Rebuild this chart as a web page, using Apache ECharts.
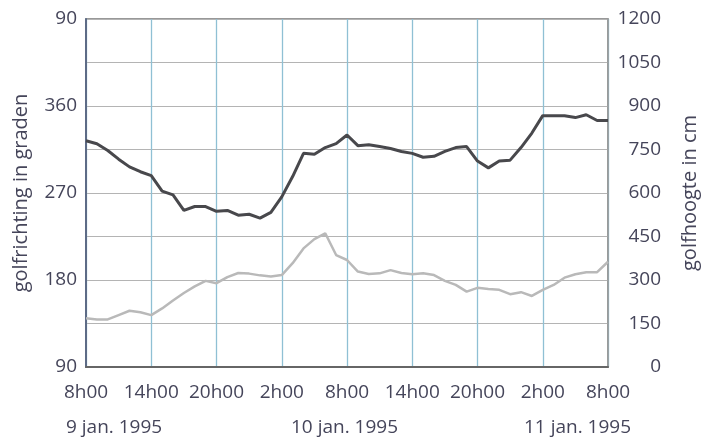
<!DOCTYPE html>
<html>
<head>
<meta charset="utf-8">
<script src="https://cdn.jsdelivr.net/npm/echarts@6/dist/echarts.min.js"></script>
<style>html,body{margin:0;padding:0;background:#fff;}#c{width:701px;height:446px;}</style>
</head>
<body>
<div id="c"></div>
<script>
// hourly time stamps, 9 jan 8h00 .. 11 jan 8h00
var hours = [];
for (var i = 0; i <= 48; i++) { hours.push(((8 + i) % 24) + 'h00'); }
var xTickLabels = ['8h00','14h00','20h00','2h00','8h00','14h00','20h00','2h00','8h00'];
var dateLabels = ['9 jan. 1995','10 jan. 1995','11 jan. 1995'];
var leftTicks = ['90','180','270','360','90'];   // 90..450 degrees, 450 shown as 90
var rightTicks = [0,150,300,450,600,750,900,1050,1200];

// golfrichting (degrees), dark line
var golfrichting = [324,321,314,305,297,292,288,272,268,252,256,256,251,252,247,248,244,250,266,287,311,310,317,321,330,319,320,318,316,313,311,307,308,313,317,318,303,296,303,304,317,332,350,350,350,348,351,345,345];
// golfhoogte (cm), grey line
var golfhoogte = [168,164,164,179,194,189,179,202,229,255,278,297,289,310,324,322,316,312,317,358,409,441,461,386,369,329,321,323,334,324,320,323,317,297,283,260,273,269,266,251,258,245,266,283,308,320,327,327,363];

var font = 'Open Sans';
var txt = '#45455a';
var chart = echarts.init(document.getElementById('c'));
chart.setOption({
  backgroundColor: '#fff',
  animation: false,
  grid: {left: 86, right: 93, top: 19, bottom: 79, show: true, borderColor: '#777', borderWidth: 1.5,
         containLabel: false, outerBoundsMode: 'none'},
  xAxis: {
    type: 'category', data: hours, boundaryGap: false,
    axisLine: {lineStyle: {color: '#666', width: 2}},
    axisTick: {show: false},
    axisLabel: {
      interval: function (i) { return i % 6 === 0; },
      formatter: function (v, i) { return xTickLabels[i / 6]; },
      color: txt, fontFamily: font, fontSize: 19, margin: 16
    },
    splitLine: {show: true, interval: function (i) { return i % 6 === 0; }, lineStyle: {color: '#8fc0d4', width: 1.3}}
  },
  yAxis: [{
    type: 'value', min: 90, max: 450, interval: 90, position: 'left',
    name: 'golfrichting in graden', nameLocation: 'middle', nameGap: 55,
    nameTextStyle: {color: txt, fontFamily: font, fontSize: 20},
    axisLine: {show: true, lineStyle: {color: '#5d6b86', width: 2}},
    axisTick: {show: false},
    axisLabel: {color: txt, fontFamily: font, fontSize: 19, margin: 9,
      formatter: function (v) { return leftTicks[Math.round((v - 90) / 90)]; }},
    splitLine: {show: false}
  }, {
    type: 'value', min: 0, max: 1200, interval: 150, position: 'right',
    name: 'golfhoogte in cm', nameLocation: 'middle', nameGap: 72,
    nameTextStyle: {color: txt, fontFamily: font, fontSize: 20},
    axisLine: {show: true, lineStyle: {color: '#9a9a9a', width: 1.5}},
    axisTick: {show: false},
    axisLabel: {color: txt, fontFamily: font, fontSize: 19, margin: 53, align: 'right',
      formatter: function (v) { return String(rightTicks[Math.round(v / 150)]); }},
    splitLine: {show: true, lineStyle: {color: '#b4b4b4', width: 1.2}}
  }],
  graphic: [
    {type: 'text', left: 66, top: 418, style: {text: dateLabels[0], fill: txt, font: '19px "Open Sans"'}},
    {type: 'text', left: 291, top: 418, style: {text: dateLabels[1], fill: txt, font: '19px "Open Sans"'}},
    {type: 'text', left: 524, top: 418, style: {text: dateLabels[2], fill: txt, font: '19px "Open Sans"'}}
  ],
  series: [{
    type: 'line', name: 'golfhoogte', yAxisIndex: 1, data: golfhoogte,
    showSymbol: false, lineStyle: {color: '#b9b9b9', width: 2.5}
  }, {
    type: 'line', name: 'golfrichting', yAxisIndex: 0, data: golfrichting,
    showSymbol: false, lineStyle: {color: '#48484c', width: 3}
  }]
});
</script>
</body>
</html>
